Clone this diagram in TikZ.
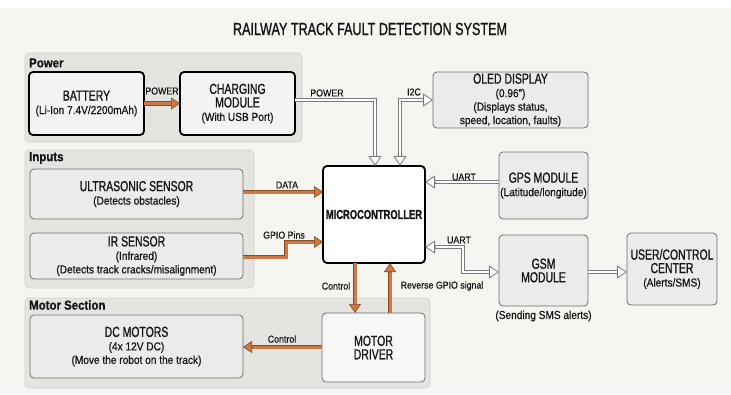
\documentclass[tikz,border=0pt]{standalone}
\usepackage{fontspec}
\setmainfont{Liberation Sans}[FakeStretch=0.88, FakeBold=0.6]
\newfontfamily\headf{Liberation Sans}[FakeStretch=0.72, FakeBold=1.0]
\usetikzlibrary{arrows.meta}
\definecolor{bgc}{HTML}{F5F5F1}
\definecolor{grpfill}{HTML}{E4E4E1}
\definecolor{grpline}{HTML}{D2D2CF}
\definecolor{boxfill}{HTML}{EBEBE9}
\definecolor{boxline}{HTML}{6E6E6E}
\definecolor{oorange}{HTML}{CC7A45}
\definecolor{obrown}{HTML}{8B4A22}
\definecolor{hline}{HTML}{7A7A7A}
\definecolor{txt}{HTML}{151515}
\newcommand{\hd}[1]{{\headf\fontsize{14.5}{14}\selectfont #1}}
\newcommand{\sm}[1]{{\fontsize{11.5}{13}\selectfont #1}}
\newcommand{\lbl}{\fontsize{10}{12}\selectfont}
\tikzset{
  grp/.style={draw=grpline, fill=grpfill, line width=0.6pt, rounded corners=4pt},
  grplabel/.style={anchor=west, inner sep=0pt, text=txt, font=\bfseries\fontsize{13}{14}\selectfont},
  gbox/.style={draw=boxline, fill=boxfill, line width=0.8pt, rounded corners=4pt, align=center,
    inner sep=0pt, outer sep=0pt, text=txt, font=\fontsize{11.5}{13.5}\selectfont},
  tbox/.style={gbox, draw=black, line width=1.8pt, fill=boxfill!60!white},
  lab/.style={inner sep=0pt, text=txt, font=\lbl},
  oline/.style={draw=obrown, line width=0.6pt, double=oorange, double distance=3pt, shorten >=6pt},
  otip/.style={draw=obrown, line width=0.6pt, -{Triangle[length=9pt, width=12pt, fill=oorange]}},
  hline2/.style={draw=hline, line width=0.7pt, double=white, double distance=2.8pt},
  htip/.style={draw=hline, line width=0.8pt, -{Triangle[open, length=10pt, width=13pt, fill=white]}}
}
\begin{document}
\begin{tikzpicture}[x=1pt, y=-1pt]
\useasboundingbox (0,0) rectangle (731,394);
\fill[bgc] (0,0) rectangle (731,394);
\fill[white] (0,0) rectangle (731,8);

\node[text=txt, inner sep=0pt] (title) at (370,29) {\headf\fontsize{17.5}{19}\selectfont RAILWAY TRACK FAULT DETECTION SYSTEM};

% groups
\draw[grp] (25,53) rectangle (302,142);
\node[grplabel] (gpow) at (29,63) {Power};
\draw[grp] (25,150) rectangle (254,288);
\node[grplabel] (ginp) at (29,158) {Inputs};
\draw[grp] (25,298) rectangle (430,388);
\node[grplabel] (gmot) at (29,305) {Motor Section};

% boxes
\node[tbox, minimum width=115pt, minimum height=63pt] (bat) at (86.5,103.5)
  {\hd{BATTERY}\\\sm{(Li-Ion 7.4V/2200mAh)}};
\node[tbox, minimum width=115pt, minimum height=63pt] (chg) at (237.5,103.5)
  {\hd{CHARGING}\\\hd{MODULE}\\\sm{(With USB Port)}};
\node[gbox, minimum width=155pt, minimum height=56pt] (oled) at (510.5,100)
  {\hd{OLED DISPLAY}\\\sm{(0.96")}\\\sm{(Displays status,}\\\sm{speed, location, faults)}};
\node[tbox, fill=white, minimum width=102pt, minimum height=97pt] (mc) at (374,214.5)
  {\headf\bfseries\fontsize{13}{14}\selectfont MICROCONTROLLER};
\node[gbox, minimum width=89pt, minimum height=67pt] (gps) at (543.5,185.5)
  {\hd{GPS MODULE}\\\sm{(Latitude/longitude)}};
\node[gbox, minimum width=89pt, minimum height=71pt] (gsm) at (543.5,270.5)
  {\hd{GSM}\\\hd{MODULE}};
\node[lab, font=\fontsize{11.5}{13}\selectfont] (gsmnote) at (543.5,316) {(Sending SMS alerts)};
\node[gbox, minimum width=90pt, minimum height=72pt] (user) at (672,269)
  {\hd{USER/CONTROL}\\\hd{CENTER}\\\sm{(Alerts/SMS)}};
\node[gbox, minimum width=213pt, minimum height=50pt] (ultra) at (136.5,194)
  {\hd{ULTRASONIC SENSOR}\\\sm{(Detects obstacles)}};
\node[gbox, minimum width=213pt, minimum height=46pt] (ir) at (136.5,256)
  {\hd{IR SENSOR}\\\sm{(Infrared)}\\\sm{(Detects track cracks/misalignment)}};
\node[gbox, minimum width=213pt, minimum height=63pt] (dcm) at (136.5,346.5)
  {\hd{DC MOTORS}\\\sm{(4x 12V DC)}\\\sm{(Move the robot on the track)}};
\node[gbox, fill=boxfill!40!white, minimum width=103pt, minimum height=69pt] (drv) at (373.5,347.5)
  {\hd{MOTOR}\\\hd{DRIVER}};

% orange connectors
\draw[oline] (bat.east) -- (chg.west);
\draw[otip] ([xshift=-9pt]chg.west) -- (chg.west);
\node[lab] (lpow1) at (162,91) {POWER};

\draw[oline] (ultra.east |- 0,192) -- (mc.west |- 0,192);
\draw[otip] (314,192) -- (mc.west |- 0,192);
\node[lab] (ldata) at (287,185) {DATA};

\draw[oline] (ir.east |- 0,257) -- (286,257) -- (286,242) -- (mc.west |- 0,242);
\draw[otip] (314,242) -- (mc.west |- 0,242);
\node[lab] (lgpio) at (284,235) {GPIO Pins};

\draw[oline] (mc.south -| 355,0) -- (drv.north -| 355,0);
\draw[otip] (355,304) -- (drv.north -| 355,0);
\node[lab] (lctl1) at (336,286) {Control};

\draw[oline] (drv.north -| 390,0) -- (mc.south -| 390,0);
\draw[otip] (390,272) -- (mc.south -| 390,0);
\node[lab] (lrev) at (442,286) {Reverse GPIO signal};

\draw[oline] (drv.west |- 0,347) -- (dcm.east |- 0,347);
\draw[otip] (252,347) -- (dcm.east |- 0,347);
\node[lab] (lctl2) at (282,339) {Control};

% hollow connectors
\draw[hline2, shorten >=8pt] (chg.east |- 0,100) -- (375,100) -- (mc.north -| 375,0);
\draw[htip] (375,156) -- (mc.north -| 375,0);
\node[lab] (lpow2) at (327,93) {POWER};

\draw[hline2, shorten >=8pt, shorten <=8pt] (mc.north -| 400,0) -- (400,100) -- (oled.west);
\draw[htip] (400,156) -- (mc.north -| 400,0);
\draw[htip] (423,100) -- (oled.west);
\node[lab] (li2c) at (414,92) {I2C};

\draw[hline2, shorten >=8pt] (gps.west |- 0,182) -- (mc.east |- 0,182);
\draw[htip] (435,182) -- (mc.east |- 0,182);
\node[lab] (luart1) at (464,177) {UART};

\draw[hline2, shorten >=8pt, shorten <=8pt] (mc.east |- 0,247) -- (463,247) -- (463,272) -- (gsm.west |- 0,272);
\draw[htip] (435,247) -- (mc.east |- 0,247);
\draw[htip] (489,272) -- (gsm.west |- 0,272);
\node[lab] (luart2) at (459,240) {UART};

\draw[hline2, shorten >=8pt] (gsm.east |- 0,272) -- (user.west |- 0,272);
\draw[htip] (617,272) -- (user.west |- 0,272);
\end{tikzpicture}
\end{document}
